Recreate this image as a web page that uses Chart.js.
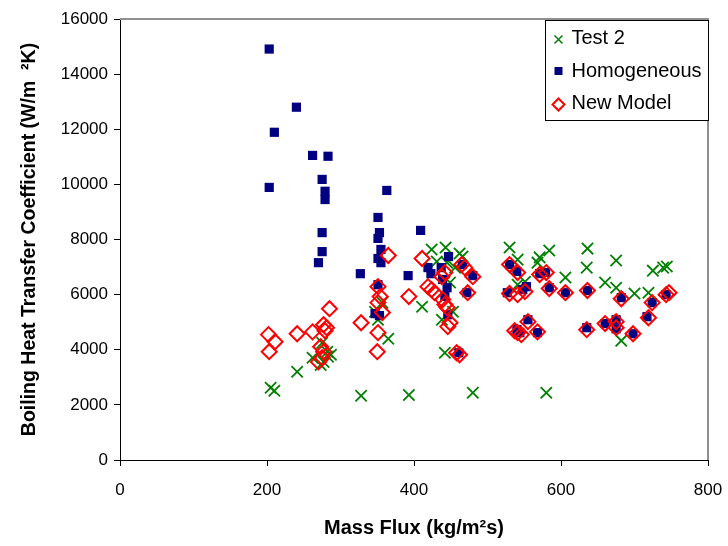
<!DOCTYPE html>
<html>
<head>
<meta charset="utf-8">
<script src="https://cdn.jsdelivr.net/npm/chart.js@4.4.1/dist/chart.umd.min.js"></script>
<style>
    html, body { margin: 0; padding: 0; background: #fff; }
</style>
</head>
<body>
<canvas id="fluxChart" width="728" height="546"></canvas>
<script>

// Boiling heat transfer coefficient vs mass flux

const seriesNames = ['Test 2', 'Homogeneous', 'New Model'];

const xTicks = [0, 200, 400, 600, 800];
const yTicks = [0, 2000, 4000, 6000, 8000, 10000, 12000, 14000, 16000];

// Test 2 (measured)
const test2Flux = [
    205, 210, 241, 262, 275, 282, 283, 277, 273, 287,
    328, 351, 357, 347, 365, 393, 411, 424, 443, 462,
    466, 431, 445, 456, 449, 453, 438, 442, 480, 530,
    541, 568, 571, 584, 551, 541, 606, 580, 636, 635,
    660, 675, 675, 700, 719, 725, 744, 739, 682
];
const test2Htc = [
    2620, 2510, 3200, 3710, 4250, 3930, 3750, 3560, 3450, 3820,
    2330, 5090, 5710, 5380, 4400, 2360, 5560, 7640, 7710, 7490,
    7380, 7200, 7160, 6980, 6440, 5380, 5090, 3890, 2440, 7710,
    7270, 7160, 7350, 7600, 6470, 6360, 6620, 2440, 7670, 6980,
    6440, 7240, 6250, 6040, 6070, 6870, 7020, 6980, 4330
];

// Homogeneous model
const homoFlux = [
    203, 240, 210, 262, 283, 275, 203, 279, 279, 363,
    275, 275, 270, 351, 353, 351, 355, 351, 355, 327,
    351, 347, 353, 409, 392, 419, 423, 437, 439, 445,
    442, 446, 461, 466, 480, 472, 447, 530, 540, 527,
    548, 553, 555, 540, 544, 568, 571, 579, 584, 606,
    636, 682, 724, 743, 717, 675, 660, 675, 635, 698
];
const homoHtc = [
    14910, 12800, 11890, 11050, 11020, 10180, 9890, 9750, 9450, 9780,
    8250, 7560, 7160, 8800, 8250, 8040, 7640, 7310, 7160, 6760,
    6360, 5310, 5240, 8330, 6690, 6980, 6760, 6980, 6550, 6250,
    5930, 5270, 3890, 7090, 6690, 6070, 7380, 7090, 6840, 6070,
    6180, 6290, 5090, 4730, 4620, 4620, 6760, 6800, 6250, 6070,
    6150, 5890, 5710, 6000, 5200, 5090, 4950, 4760, 4800, 4580
];

// New model
const newFlux = [
    202, 211, 203, 241, 262, 285, 277, 281, 279, 273,
    277, 275, 270, 328, 351, 354, 351, 357, 351, 350,
    365, 411, 393, 419, 424, 428, 438, 442, 439, 442,
    445, 449, 446, 465, 469, 480, 473, 462, 458, 530,
    541, 530, 541, 551, 571, 580, 584, 606, 636, 537,
    541, 546, 555, 568, 635, 682, 660, 675, 675, 698,
    724, 719, 743, 747
];
const newHtc = [
    4550, 4290, 3930, 4580, 4650, 5490, 4910, 4800, 4690, 4110,
    3930, 3710, 3560, 4980, 6290, 5930, 5710, 5350, 4620, 3930,
    7420, 7310, 5930, 6290, 6180, 6070, 6650, 6800, 5820, 5640,
    5530, 4980, 4840, 7090, 6980, 6650, 6070, 3820, 3890, 7090,
    6800, 6040, 6000, 6110, 6730, 6800, 6220, 6070, 6150, 4690,
    4620, 4550, 5020, 4650, 4730, 5850, 4950, 5020, 4800, 4580,
    5710, 5160, 6000, 6070
];

const seriesColors = ['#008000', '#000080', '#ff0000'];

buildFluxChart();

function toPoints(xs, ys) {
    return xs.map((x, i) => ({ x: x, y: ys[i] }));
}

function buildFluxChart() {
    const fluxCtx = document.getElementById('fluxChart');

    // gray frame on top / right of the plot, like the Excel plot area
    const plotFrame = {
        id: 'plotFrame',
        afterDraw(chart) {
            const ctx = chart.ctx;
            const area = chart.chartArea;
            ctx.save();
            ctx.strokeStyle = '#909090';
            ctx.lineWidth = 2;
            ctx.beginPath();
            ctx.moveTo(area.left, area.top);
            ctx.lineTo(area.right, area.top);
            ctx.lineTo(area.right, area.bottom);
            ctx.stroke();
            ctx.restore();
        }
    };

    // boxed legend inside the top right corner
    const boxLegend = {
        id: 'boxLegend',
        afterDraw(chart) {
            const ctx = chart.ctx;
            const area = chart.chartArea;
            const boxW = 163, boxH = 100;
            const bx = area.right - boxW + 0.5;
            const by = area.top + 1.5;
            ctx.save();
            ctx.fillStyle = '#fff';
            ctx.fillRect(bx, by, boxW, boxH);
            ctx.strokeStyle = '#000';
            ctx.lineWidth = 1;
            ctx.strokeRect(bx, by, boxW, boxH);
            ctx.font = '20px "Liberation Sans", Arial, sans-serif';
            ctx.textBaseline = 'middle';
            ctx.fillStyle = '#000';
            seriesNames.forEach((name, i) => {
                const my = by + 18 + i * 32.5;
                const mx = bx + 13;
                ctx.strokeStyle = seriesColors[i];
                ctx.fillStyle = seriesColors[i];
                ctx.lineWidth = 1.5;
                ctx.beginPath();
                if (i === 0) {
                    ctx.moveTo(mx - 4, my - 3); ctx.lineTo(mx + 4, my + 5);
                    ctx.moveTo(mx + 4, my - 3); ctx.lineTo(mx - 4, my + 5);
                    ctx.stroke();
                } else if (i === 1) {
                    ctx.fillRect(mx - 4, my - 4, 8, 8);
                } else {
                    ctx.lineWidth = 2;
                    ctx.moveTo(mx, my - 5); ctx.lineTo(mx + 6, my + 1);
                    ctx.lineTo(mx, my + 7); ctx.lineTo(mx - 6, my + 1);
                    ctx.closePath();
                    ctx.stroke();
                }
                ctx.fillStyle = '#000';
                ctx.fillText(name, bx + 26, my);
            });
            ctx.restore();
        }
    };

    // @ts-ignore
    new Chart(fluxCtx, {
        type: 'scatter',
        data: {
            datasets: [
                {
                    label: seriesNames[0],
                    data: toPoints(test2Flux, test2Htc),
                    pointStyle: 'crossRot',
                    radius: 8,
                    borderColor: seriesColors[0],
                    borderWidth: 1.8,
                    order: 2
                },
                {
                    label: seriesNames[1],
                    data: toPoints(homoFlux, homoHtc),
                    pointStyle: 'rect',
                    radius: 6.5,
                    backgroundColor: seriesColors[1],
                    borderColor: seriesColors[1],
                    borderWidth: 0,
                    order: 1
                },
                {
                    label: seriesNames[2],
                    data: toPoints(newFlux, newHtc),
                    pointStyle: 'rectRot',
                    radius: 7.5,
                    backgroundColor: 'rgba(0,0,0,0)',
                    borderColor: seriesColors[2],
                    borderWidth: 2,
                    order: 0
                }
            ]
        },
        options: {
            responsive: false,
            animation: false,
            devicePixelRatio: 1,
            layout: {
                padding: { left: 0, right: 20, top: 19, bottom: 0 }
            },
            scales: {
                x: {
                    type: 'linear',
                    min: 0,
                    max: 800,
                    afterBuildTicks: (scale) => { scale.ticks = xTicks.map(v => ({ value: v })); },
                    afterFit: (scale) => {
                        scale.height = 86;
                        scale.paddingLeft = 0;
                        scale.paddingRight = 0;
                    },
                    grid: { drawOnChartArea: false, tickLength: 6, color: '#000' },
                    border: { color: '#000' },
                    ticks: {
                        color: '#000',
                        padding: 14,
                        callback: (v) => String(v),
                        font: { family: '"Liberation Sans", Arial, sans-serif', size: 17 }
                    },
                    title: {
                        display: true,
                        text: 'Mass Flux (kg/m²s)',
                        color: '#000',
                        padding: { top: 0, bottom: 6 },
                        font: { family: '"Liberation Sans", Arial, sans-serif', size: 20, weight: 'bold' }
                    }
                },
                y: {
                    min: 0,
                    max: 16000,
                    afterBuildTicks: (scale) => { scale.ticks = yTicks.map(v => ({ value: v })); },
                    afterFit: (scale) => {
                        scale.width = 120;
                        scale.paddingTop = 0;
                        scale.paddingBottom = 0;
                    },
                    grid: { drawOnChartArea: false, tickLength: 6, color: '#000' },
                    border: { color: '#000' },
                    ticks: {
                        color: '#000',
                        padding: 6,
                        callback: (v) => String(v),
                        font: { family: '"Liberation Sans", Arial, sans-serif', size: 17 }
                    },
                    title: {
                        display: true,
                        text: 'Boiling Heat Transfer Coefficient (W/m  ²K)',
                        color: '#000',
                        padding: { top: 18, bottom: 0 },
                        font: { family: '"Liberation Sans", Arial, sans-serif', size: 19.5, weight: 'bold' }
                    }
                }
            },
            plugins: {
                legend: { display: false },
                tooltip: { enabled: false }
            }
        },
        plugins: [plotFrame, boxLegend]
    });
}
</script>
</body>
</html>
